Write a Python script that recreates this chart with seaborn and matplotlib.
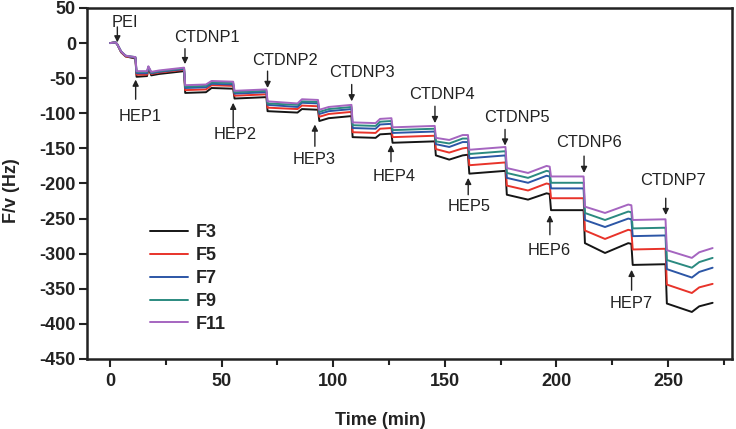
import numpy as np
import pandas as pd
import seaborn as sns
import matplotlib.pyplot as plt

# time axis shared by all five frequency traces (min)
time_min = [0, 2.5, 3.3, 5, 7, 11.4, 11.9, 16.6, 17.2, 18.5, 22, 33.2, 33.7, 43, 45.5, 55.2, 55.8,
            70.1, 70.6, 84, 86, 93.2, 93.8, 98, 108.2, 108.7, 119, 121, 126.1, 126.6, 145.5, 146,
            152, 158, 160.4, 161, 177.2, 177.8, 187.3, 195.6, 197, 197.6, 212.2, 212.8, 221.8,
            232.2, 233.6, 234.2, 248.9, 249.5, 260.7, 264, 270]

f3 = [0, 1, -2, -13, -19, -22, -48, -47, -36, -46, -44, -40, -71, -70, -64, -65, -79, -77, -97,
      -99, -94, -95, -111, -107, -104, -134, -135, -130, -129, -142, -140, -160, -166, -160, -159,
      -186, -182, -216, -223, -214, -215, -238, -238, -285, -299, -285, -286, -316, -315, -371,
      -383, -375, -370]
f5 = [0, 1, -2, -13, -19, -21, -45, -45, -35, -44, -42, -38, -67, -66, -60, -61, -75, -73, -92,
      -94, -89, -90, -105, -101, -98, -127, -128, -122, -121, -134, -132, -151, -156, -150, -149,
      -174, -170, -203, -210, -200, -201, -221, -221, -267, -279, -266, -267, -294, -293, -344,
      -356, -348, -343]
f7 = [0, 1, -2, -12, -18, -21, -43, -43, -34, -43, -41, -37, -64, -63, -58, -59, -72, -70, -88,
      -91, -85, -86, -101, -97, -94, -121, -122, -116, -115, -128, -126, -144, -148, -141, -141,
      -164, -160, -192, -199, -189, -190, -207, -207, -252, -262, -250, -251, -275, -274, -322,
      -334, -326, -320]
f9 = [0, 1, -2, -12, -18, -20, -41, -41, -34, -42, -40, -36, -62, -61, -56, -57, -70, -68, -86,
      -88, -83, -84, -98, -94, -91, -117, -118, -112, -111, -124, -122, -140, -143, -136, -136,
      -158, -154, -185, -192, -182, -183, -199, -199, -242, -252, -240, -241, -264, -263, -309,
      -320, -312, -306]
f11 = [0, 1, -2, -12, -18, -20, -40, -40, -33, -41, -39, -35, -60, -59, -54, -55, -68, -66, -83,
       -86, -80, -81, -95, -91, -88, -113, -114, -108, -107, -120, -118, -135, -138, -131, -131,
       -152, -148, -178, -185, -175, -176, -190, -190, -233, -242, -230, -231, -252, -251, -295,
       -306, -298, -292]

series_names = ['F3', 'F5', 'F7', 'F9', 'F11']
series_colors = ['#151515', '#e8332a', '#2c56a6', '#2b8a80', '#a565c0']

# injection annotations
ann_labels = ['PEI', 'HEP1', 'CTDNP1', 'HEP2', 'CTDNP2', 'HEP3', 'CTDNP3', 'HEP4', 'CTDNP4',
              'HEP5', 'CTDNP5', 'HEP6', 'CTDNP6', 'HEP7', 'CTDNP7']
arrow_t = [3.3, 11.5, 33.6, 55.2, 70.6, 91.8, 108.3, 125.9, 145.6, 160.5, 177.0, 197.1, 212.4,
           233.7, 249.0]
arrow_tail = [23, -80, -8, -121, -40, -147, -59, -169, -90, -216, -123, -273, -161, -352, -221]
arrow_head = [1, -52, -30, -85, -64, -116, -83, -145, -114, -192, -146, -245, -185, -323, -245]
label_t = [6.6, 13.4, 43.3, 56.2, 78.4, 91.6, 112.8, 127.3, 148.8, 161.0, 182.4, 196.9, 214.8,
           233.3, 252.2]
label_v = [30, -104, 7.7, -130, -24.7, -166, -42, -190, -73.3, -233, -106.6, -295, -142, -371,
           -195.7]

if __name__ == '__main__':
    sns.set_style('ticks')
    plt.rcParams['font.family'] = ['Liberation Sans', 'DejaVu Sans']
    plt.rcParams['axes.unicode_minus'] = False

    frames = []
    for name, vals in zip(series_names, [f3, f5, f7, f9, f11]):
        frames.append(pd.DataFrame({'time': time_min, 'freq': vals, 'series': name}))
    df = pd.concat(frames, ignore_index=True)

    fig, ax = plt.subplots(figsize=(7.36, 4.29), dpi=100)
    fig.subplots_adjust(left=0.1182, right=0.9946, top=0.9814, bottom=0.1632)

    sns.lineplot(df, x='time', y='freq', hue='series', hue_order=series_names,
                 palette=dict(zip(series_names, series_colors)), linewidth=1.4, ax=ax,
                 estimator=None, sort=False)

    for lab, t, vt, vh, lt, lv in zip(ann_labels, arrow_t, arrow_tail, arrow_head, label_t, label_v):
        ax.annotate('', xy=(t, vh), xytext=(t, vt),
                    arrowprops=dict(arrowstyle='-|>', color='#222222', lw=1.0, mutation_scale=9,
                                    shrinkA=0, shrinkB=0))
        ax.text(lt, lv, lab, ha='center', va='center', fontsize=11.8, color='#222222')

    ax.set(xlim=(-10.3, 278.7), ylim=(-450, 50))
    ax.set_xticks([0, 50, 100, 150, 200, 250])
    ax.set_xticks([25, 75, 125, 175, 225, 275], minor=True)
    ax.set_yticks(np.arange(-450, 51, 50))
    ax.tick_params(axis='both', which='major', length=6, width=1.5, labelsize=13, direction='out',
                   colors='#222222')
    ax.tick_params(axis='x', which='major', pad=4)
    ax.tick_params(axis='y', which='major', pad=2)
    ax.tick_params(axis='x', which='minor', length=4, width=1.5, color='#222222')
    for lbl in ax.get_xticklabels() + ax.get_yticklabels():
        lbl.set_fontweight('bold')
    for sp in ax.spines.values():
        sp.set_linewidth(1.8)
        sp.set_color('#222222')

    ax.set_xlabel('Time (min)', fontsize=13, fontweight='bold', color='#222222')
    ax.set_ylabel('F/v (Hz)', fontsize=13, fontweight='bold', color='#222222')
    ax.xaxis.set_label_coords(0.4555, -0.150)
    ax.yaxis.set_label_coords(-0.104, 0.479)

    sns.move_legend(ax, loc='center left', bbox_to_anchor=(0.098, 0.2296), title=None,
                    frameon=False, fontsize=13, labelspacing=0.33, handlelength=2.1,
                    handletextpad=0.4, borderaxespad=0, borderpad=0)
    for t in ax.get_legend().get_texts():
        t.set_fontweight('bold')
        t.set_color('#222222')

    plt.savefig('out.png', dpi=100)
